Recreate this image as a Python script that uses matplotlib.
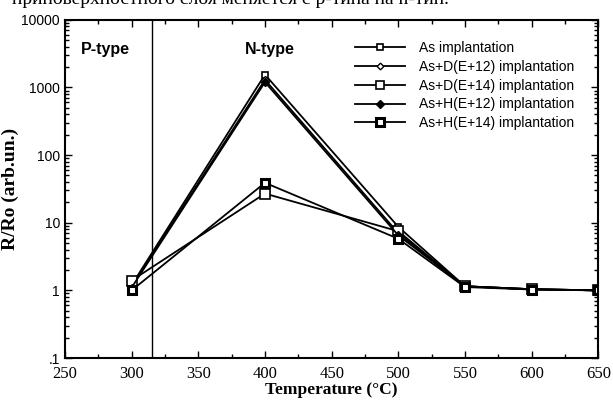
import numpy as np
import matplotlib
matplotlib.use("Agg")
import matplotlib.pyplot as plt

temps = [300, 400, 500, 550, 600, 650]
as_impl = [1.2, 1550, 8.7, 1.15, 1.04, 1.0]
d12 = [1.15, 1300, 7.0, 1.15, 1.04, 1.0]
d14 = [1.4, 27, 7.5, 1.15, 1.04, 1.0]
h12 = [1.1, 1200, 6.5, 1.15, 1.04, 1.0]
h14 = [1.0, 39, 5.8, 1.12, 1.03, 1.0]

labels = ["As implantation", "As+D(E+12) implantation", "As+D(E+14) implantation",
          "As+H(E+12) implantation", "As+H(E+14) implantation"]
boundary = 315

fig = plt.figure(figsize=(6.13, 4.05), dpi=100)
ax = fig.add_axes([0.106, 0.116, 0.87, 0.835])

lw = 1.3
ax.plot(temps, as_impl, color='k', lw=lw, marker='s', ms=5, mfc='white', mec='k', mew=1.2)
ax.plot(temps, d12, color='k', lw=lw, marker='D', ms=4, mfc='white', mec='k', mew=1.0)
ax.plot(temps, d14, color='k', lw=lw, marker='s', ms=6.5, mfc='white', mec='k', mew=1.2)
ax.plot(temps, h12, color='k', lw=lw, marker='D', ms=4.5, mfc='k', mec='k')
ax.plot(temps, h14, color='k', lw=lw, marker='s', ms=6, mfc='white', mec='k', mew=2.2)

ax.axvline(boundary, color='k', lw=1)

ax.set_yscale('log')
ax.set_xlim(250, 650)
ax.set_ylim(0.1, 10000)
ax.set_xticks(range(250, 651, 50))
ax.set_xticks(range(275, 651, 50), minor=True)
ax.set_yticks([0.1, 1, 10, 100, 1000, 10000])
ax.set_yticklabels(['.1', '1', '10', '100', '1000', '10000'], family='Liberation Sans', fontsize=10)
ax.set_xticklabels([str(t) for t in range(250, 651, 50)], family='Liberation Serif', fontsize=12)
ax.tick_params(which='both', direction='in', top=True, right=True, width=1)
ax.tick_params(which='major', length=5)
ax.tick_params(which='minor', length=3)
ax.tick_params(axis='x', pad=6)
for s in ax.spines.values():
    s.set_linewidth(1.5)

ax.set_ylabel('R/Ro (arb.un.)', family='Liberation Serif', fontweight='bold', fontsize=14, labelpad=2)
ax.set_xlabel('Temperature (°C)', family='Liberation Serif', fontweight='bold', fontsize=12.5, labelpad=0)

ax.text(0.03, 0.9, 'P-type', transform=ax.transAxes, family='Liberation Sans', fontweight='bold', fontsize=11.5)
ax.text(0.337, 0.9, 'N-type', transform=ax.transAxes, family='Liberation Sans', fontweight='bold', fontsize=11.5)

leg = ax.legend(labels, loc='upper left', bbox_to_anchor=(0.52, 0.975), frameon=False,
                prop={'family': 'Liberation Sans', 'size': 10}, handlelength=3.6,
                handletextpad=1.0, labelspacing=0.35)
for h in leg.legend_handles:
    h.set_markersize(h.get_markersize() * 0.85)

fig.text(0.02, 0.99, 'приповерхностного слоя меняется с p-типа на n-тип.',
         family='Liberation Serif', fontsize=14, va='baseline')

fig.savefig('out.png', dpi=100)
